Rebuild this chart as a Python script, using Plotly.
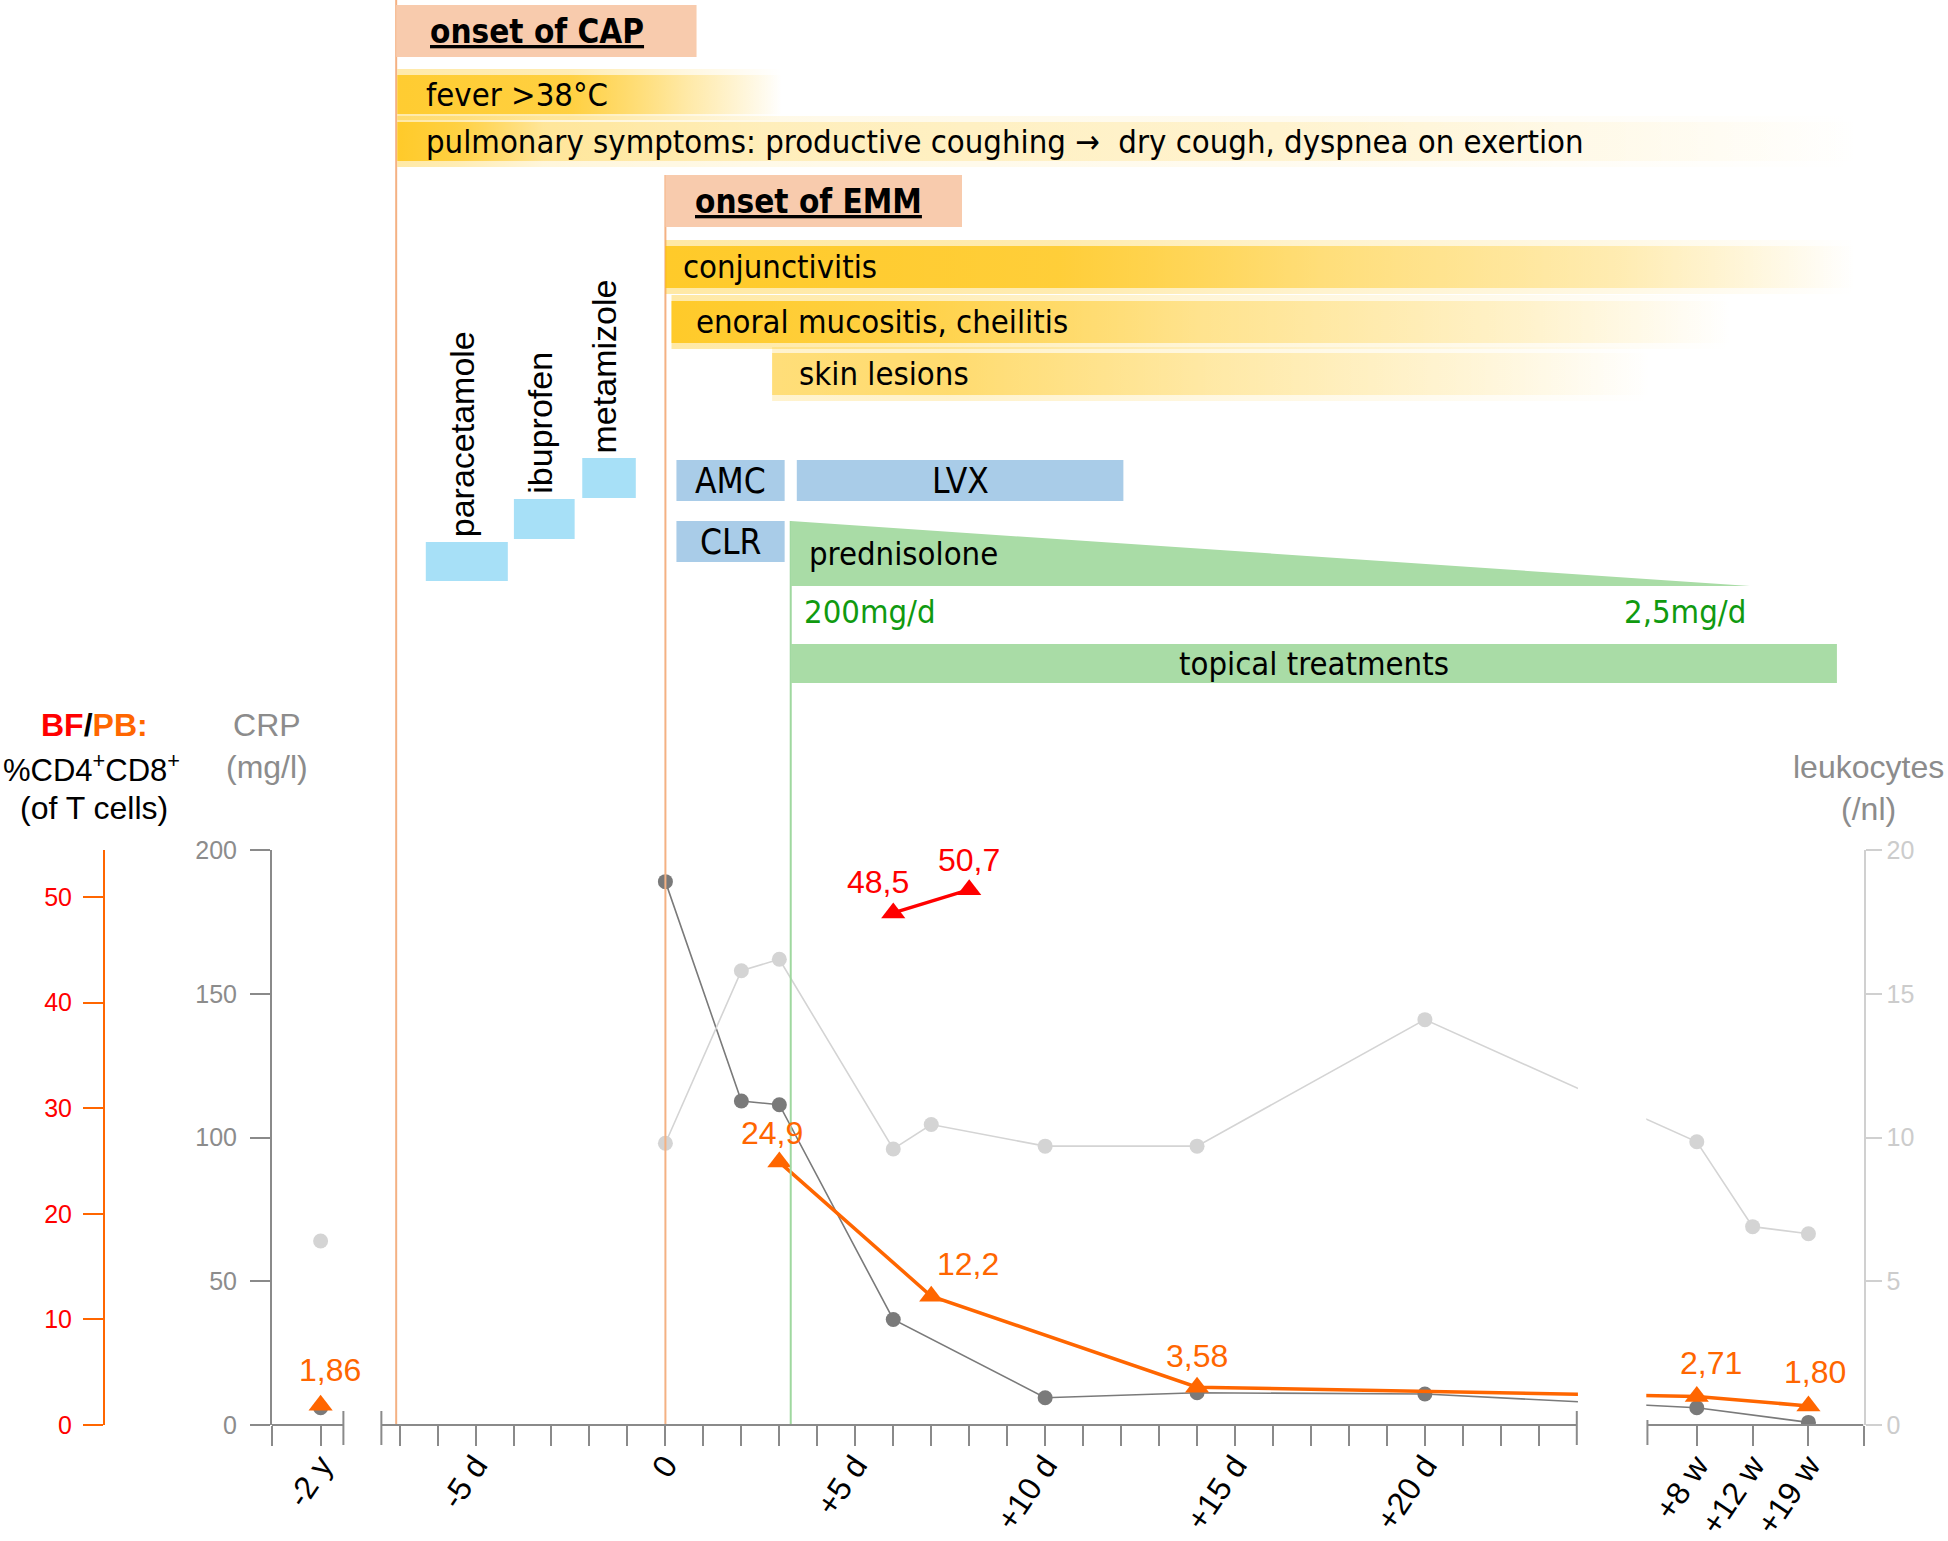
import plotly.graph_objects as go

W, H = 1948, 1541

# ---------------- data ----------------
# time points: numbers are days relative to onset of EMM; strings are the
# labels of the two broken-axis segments ("-2 y" and weeks)
crp_t = ["-2 y", 0, 2, 3, 6, 10, 14, 20, "+8 w", "+19 w"]
crp_v = [6, 189, 112.7, 111.4, 36.7, 9.5, 11.2, 10.8, 6.0, 0.9]

leu_t = ["-2 y", 0, 2, 3, 6, 7, 10, 14, 20, "+8 w", "+12 w", "+19 w"]
leu_v = [6.4, 9.8, 15.8, 16.2, 9.6, 10.45, 9.7, 9.7, 14.1, 9.85, 6.9, 6.65]

pb_t = ["-2 y", 3, 7, 14, "+8 w", "+19 w"]
pb_v = [1.86, 24.9, 12.2, 3.58, 2.71, 1.80]
pb_lbl = ["1,86", "24,9", "12,2", "3,58", "2,71", "1,80"]

bf_t = [6, 8]
bf_v = [48.5, 50.7]
bf_lbl = ["48,5", "50,7"]

crp_ticks = [0, 50, 100, 150, 200]
pb_ticks = [0, 10, 20, 30, 40, 50]
leu_ticks = [0, 5, 10, 15, 20]

# broken x axis: positions of the non-day categories on the common axis
SEG_POS = {"-2 y": -9.08, "+8 w": 27.16, "+12 w": 28.63, "+19 w": 30.10}
X_MIN, X_MAX = -10.36, 31.55
SEGMENTS = [(X_MIN, -8.48), (-7.48, 24.0), (25.86, X_MAX)]

day_ticks = list(range(-7, 24))
day_labels = {-5: "-5 d", 0: "0", 5: "+5 d", 10: "+10 d", 15: "+15 d", 20: "+20 d"}


def xpos(t):
    return SEG_POS[t] if isinstance(t, str) else t


tick_vals = [X_MIN, SEG_POS["-2 y"]] + day_ticks + [SEG_POS["+8 w"], SEG_POS["+12 w"], SEG_POS["+19 w"], X_MAX]
tick_text = ["", "-2 y"] + [day_labels.get(d, "") for d in day_ticks] + ["+8 w", "+12 w", "+19 w", ""]

# ---------------- timeline (x in axis units, y in px from top) ----------------
onset_boxes = [
    ("onset of CAP", -7.09, 0.82, 5, 57, -3.37),
    ("onset of EMM", 0.0, 7.81, 175, 227, 3.76),
]
symptom_bars = [
    dict(label="fever >38°C", x0=-7.06, x1=3.07, y0=75, y1=114, tx=-6.37,
         fade=[(0, 0.95), (0.45, 0.85), (0.75, 0.35), (1, 0.0)]),
    dict(label="pulmonary symptoms: productive coughing \u2192  dry cough, dyspnea on exertion",
         x0=-7.06, x1=31.5, y0=122, y1=161, tx=-6.37,
         fade=[(0, 1.0), (0.04, 0.85), (0.1, 0.4), (0.25, 0.26), (0.6, 0.18), (1, 0.0)]),
    dict(label="conjunctivitis", x0=0.0, x1=31.34, y0=246, y1=288, tx=0.42,
         fade=[(0, 1.0), (0.33, 0.9), (0.55, 0.55), (0.8, 0.3), (1, 0.0)]),
    dict(label="enoral mucositis, cheilitis", x0=0.16, x1=28.07, y0=301, y1=343, tx=0.75,
         fade=[(0, 1.0), (0.2, 0.85), (0.5, 0.45), (0.8, 0.2), (1, 0.0)]),
    dict(label="skin lesions", x0=2.81, x1=25.95, y0=353, y1=395, tx=3.46,
         fade=[(0, 0.55), (0.2, 0.6), (0.5, 0.35), (0.8, 0.15), (1, 0.0)]),
]
analgesics = [  # label, x0, x1, y0, y1
    ("paracetamole", -6.31, -4.15, 542, 581),
    ("ibuprofen", -3.99, -2.39, 499, 539),
    ("metamizole", -2.19, -0.78, 458, 498),
]
antibiotics = [
    ("AMC", 0.29, 3.14, 460, 501),
    ("LVX", 3.46, 12.06, 460, 501),
    ("CLR", 0.29, 3.14, 521, 562),
]
PRED_X0, PRED_X1, PRED_Y0, PRED_Y1 = 3.30, 28.56, 521, 586
TOPIC_X0, TOPIC_X1, TOPIC_Y0, TOPIC_Y1 = 3.30, 30.85, 644, 683

# ---------------- styles ----------------
SANS = "Liberation Sans, Arial, Helvetica, sans-serif"
NARROW = "Liberation Sans Narrow, Arial Narrow, DejaVu Sans Condensed, Liberation Sans, sans-serif"
NARROW_SIZE = 32.6
AX_GRAY = "#8a8a8a"
CRP_C = "#7a7a7a"
LEU_C = "#d4d4d4"
PB_C = "#ff6600"
BF_C = "#ff0000"
ORANGE_LINE = "#f4b183"
PEACH = "#f8cbad"
CYAN = "#a7e0f7"
BLUE = "#a9cce8"
GREEN = "#a9dca6"
GREEN_TXT = "#109a10"
GOLD = (255, 192, 0)

X_D0, X_D1 = 272 / W, 1863.5 / W
Y_TOP_PX, Y_BOT_PX = 850, 1425
Y_D0, Y_D1 = 1 - Y_BOT_PX / H, 1 - Y_TOP_PX / H


def rgba(c, a):
    return f"rgba({c[0]},{c[1]},{c[2]},{a:.3f})"


fig = go.Figure()

# gradient symptom bars
for bar in symptom_bars:
    for pad, k in [(6, 0.35), (0, 0.75)]:
        x0, x1 = bar["x0"], bar["x1"]
        y0, y1 = bar["y0"] - pad, bar["y1"] + pad
        cs = [[s, rgba(GOLD, a * k)] for s, a in bar["fade"]]
        fig.add_trace(go.Scatter(
            x=[x0, x1, x1, x0, x0], y=[y0, y0, y1, y1, y0], mode="lines",
            line=dict(width=0), fill="toself",
            fillgradient=dict(type="horizontal", colorscale=cs, start=x0, stop=x1),
            xaxis="x", yaxis="y4", hoverinfo="skip", showlegend=False))


def series(ts, vs):
    xs = [xpos(ts[0]), None] + [xpos(t) for t in ts[1:]]
    ys = [vs[0], None] + list(vs[1:])
    return xs, ys


lx, ly = series(leu_t, leu_v)
fig.add_trace(go.Scatter(x=lx, y=ly, yaxis="y3", mode="lines+markers",
                         line=dict(color=LEU_C, width=1.6), marker=dict(color=LEU_C, size=15),
                         hoverinfo="skip", showlegend=False))
fig.add_trace(go.Scatter(x=[xpos(t) for t in bf_t], y=bf_v, yaxis="y2", mode="lines+markers",
                         line=dict(color=BF_C, width=3.5),
                         marker=dict(color=BF_C, size=21, symbol="triangle-up"),
                         hoverinfo="skip", showlegend=False))
px_, py_ = series(pb_t, pb_v)
fig.add_trace(go.Scatter(x=px_, y=py_, yaxis="y2", mode="lines+markers",
                         line=dict(color=PB_C, width=3.5),
                         marker=dict(color=PB_C, size=21, symbol="triangle-up"),
                         hoverinfo="skip", showlegend=False))
cx, cy = series(crp_t, crp_v)
fig.add_trace(go.Scatter(x=cx, y=cy, yaxis="y", mode="lines+markers",
                         line=dict(color=CRP_C, width=1.6), marker=dict(color=CRP_C, size=15),
                         hoverinfo="skip", showlegend=False))

shapes = []
ann = []

# vertical event lines
shapes.append(dict(type="line", xref="x", yref="y4", x0=-7.09, x1=-7.09, y0=0, y1=Y_BOT_PX,
                   line=dict(color=ORANGE_LINE, width=2), layer="below"))
shapes.append(dict(type="line", xref="x", yref="y4", x0=0, x1=0, y0=175, y1=Y_BOT_PX,
                   line=dict(color=ORANGE_LINE, width=2), layer="below"))
shapes.append(dict(type="line", xref="x", yref="y4", x0=PRED_X0, x1=PRED_X0, y0=PRED_Y0, y1=Y_BOT_PX,
                   line=dict(color="#9fd89f", width=2), layer="below"))

# onset boxes
for label, x0, x1, y0, y1, tx in onset_boxes:
    shapes.append(dict(type="rect", xref="x", yref="y4", x0=x0, x1=x1, y0=y0, y1=y1,
                       fillcolor=PEACH, line=dict(width=0), layer="below"))
    ann.append(dict(x=tx, y=(y0 + y1) / 2, xref="x", yref="y4", text=f"<b><u>{label}</u></b>",
                    showarrow=False, font=dict(family=NARROW, size=33, color="black")))

for bar in symptom_bars:
    ann.append(dict(x=bar["tx"], y=(bar["y0"] + bar["y1"]) / 2, xref="x", yref="y4", text=bar["label"],
                    showarrow=False, xanchor="left", font=dict(family=NARROW, size=NARROW_SIZE, color="black")))

for label, x0, x1, y0, y1 in analgesics:
    shapes.append(dict(type="rect", xref="x", yref="y4", x0=x0, x1=x1, y0=y0, y1=y1,
                       fillcolor=CYAN, line=dict(width=0)))
    ann.append(dict(x=(x0 + x1) / 2 - 0.12, y=y0 - 3, xref="x", yref="y4", text=label, textangle=-90,
                    showarrow=False, xanchor="center", yanchor="bottom",
                    font=dict(family=SANS, size=34, color="black")))

for label, x0, x1, y0, y1 in antibiotics:
    shapes.append(dict(type="rect", xref="x", yref="y4", x0=x0, x1=x1, y0=y0, y1=y1,
                       fillcolor=BLUE, line=dict(width=0)))
    ann.append(dict(x=(x0 + x1) / 2, y=(y0 + y1) / 2, xref="x", yref="y4", text=label,
                    showarrow=False, font=dict(family=NARROW, size=35, color="black")))

# prednisolone wedge
shapes.append(dict(type="path", xref="x", yref="y4",
                   path=f"M {PRED_X0},{PRED_Y0} L {PRED_X1},{PRED_Y1} L {PRED_X0},{PRED_Y1} Z",
                   fillcolor=GREEN, line=dict(width=0)))
ann.append(dict(x=3.73, y=554, xref="x", yref="y4", text="prednisolone", showarrow=False,
                xanchor="left", font=dict(family=NARROW, size=NARROW_SIZE, color="black")))
ann.append(dict(x=3.59, y=612, xref="x", yref="y4", text="200mg/d", showarrow=False,
                xanchor="left", font=dict(family=NARROW, size=NARROW_SIZE, color=GREEN_TXT)))
ann.append(dict(x=28.5, y=612, xref="x", yref="y4", text="2,5mg/d", showarrow=False,
                xanchor="right", font=dict(family=NARROW, size=NARROW_SIZE, color=GREEN_TXT)))
shapes.append(dict(type="rect", xref="x", yref="y4", x0=TOPIC_X0, x1=TOPIC_X1, y0=TOPIC_Y0, y1=TOPIC_Y1,
                   fillcolor=GREEN, line=dict(width=0)))
ann.append(dict(x=17.09, y=(TOPIC_Y0 + TOPIC_Y1) / 2, xref="x", yref="y4", text="topical treatments",
                showarrow=False, font=dict(family=NARROW, size=NARROW_SIZE, color="black")))

# white gap in the broken axis
shapes.append(dict(type="rect", xref="x", yref="y4", x0=SEGMENTS[1][1] + 0.03, x1=SEGMENTS[2][0] - 0.03,
                   y0=Y_TOP_PX - 10, y1=Y_BOT_PX - 2, fillcolor="white", line=dict(width=0), layer="above"))

# x-axis line segments and segment end ticks
for a, b in SEGMENTS:
    shapes.append(dict(type="line", xref="x", yref="y4", x0=a, x1=b, y0=Y_BOT_PX, y1=Y_BOT_PX,
                       line=dict(color=AX_GRAY, width=2)))
for xe, up in [(SEGMENTS[0][1], 14), (SEGMENTS[1][0], 14), (SEGMENTS[1][1], 14), (SEGMENTS[2][0], 5)]:
    shapes.append(dict(type="line", xref="x", yref="y4", x0=xe, x1=xe, y0=Y_BOT_PX - up, y1=Y_BOT_PX + 20,
                       line=dict(color=AX_GRAY, width=2)))

# data labels
pb_off = [(9, 35), (-7, 29), (37, 32), (0, 31), (14, 33), (7, 34)]
for t, v, s, (dx, dy) in zip(pb_t, pb_v, pb_lbl, pb_off):
    ann.append(dict(x=xpos(t), y=v, xref="x", yref="y2", text=s, showarrow=False,
                    xshift=dx, yshift=dy, font=dict(family=SANS, size=32, color=PB_C)))
bf_off = [(-15, 31), (0, 30)]
for t, v, s, (dx, dy) in zip(bf_t, bf_v, bf_lbl, bf_off):
    ann.append(dict(x=xpos(t), y=v, xref="x", yref="y2", text=s, showarrow=False,
                    xshift=dx, yshift=dy, font=dict(family=SANS, size=32, color=BF_C)))

# axis titles
ann.append(dict(x=94 / W, y=725, xref="paper", yref="y4", showarrow=False, align="center",
                xanchor="center", yanchor="middle",
                text=f"<b><span style='color:{BF_C}'>BF</span>/<span style='color:{PB_C}'>PB:</span></b>",
                font=dict(family=SANS, size=32, color="black")))
ann.append(dict(x=91 / W, y=768, xref="paper", yref="y4", showarrow=False, align="center",
                xanchor="center", yanchor="middle",
                text="%CD4<sup>+</sup>CD8<sup>+</sup>",
                font=dict(family=SANS, size=31, color="black")))
ann.append(dict(x=94 / W, y=808, xref="paper", yref="y4", showarrow=False, align="center",
                xanchor="center", yanchor="middle",
                text="(of T cells)",
                font=dict(family=SANS, size=32, color="black")))
ann.append(dict(x=267 / W, y=746, xref="paper", yref="y4", showarrow=False, align="center",
                xanchor="center", yanchor="middle",
                text="CRP<br>(mg/l)", font=dict(family=SANS, size=32, color="#8c8c8c")))
ann.append(dict(x=1868 / W, y=788, xref="paper", yref="y4", showarrow=False, align="center",
                xanchor="center", yanchor="middle",
                text="leukocytes<br>(/nl)", font=dict(family=SANS, size=32, color="#8c8c8c")))

fig.update_layout(
    width=W, height=H, margin=dict(l=0, r=0, t=0, b=0), autosize=False,
    paper_bgcolor="white", plot_bgcolor="rgba(0,0,0,0)", showlegend=False, hovermode=False,
    font=dict(family=SANS, size=32, color="black"),
    shapes=shapes, annotations=ann,
    xaxis=dict(domain=[X_D0, X_D1], range=[X_MIN, X_MAX], anchor="y", showline=False, showgrid=False,
               zeroline=False, tickmode="array", tickvals=tick_vals, ticktext=tick_text,
               ticks="outside", ticklen=20, tickwidth=2, tickcolor=AX_GRAY, tickangle=-56,
               ticklabelstandoff=-12,
               tickfont=dict(family=SANS, size=32, color="black"), automargin=False),
    yaxis=dict(domain=[Y_D0, Y_D1], range=[0, 200], anchor="x", tickmode="array", tickvals=crp_ticks,
               showline=True, linecolor=AX_GRAY, linewidth=2, ticks="outside", ticklen=20, tickwidth=2,
               tickcolor=AX_GRAY, tickfont=dict(family=SANS, size=25, color="#8c8c8c"),
               ticklabelstandoff=8, showgrid=False, zeroline=False, automargin=False),
    yaxis2=dict(overlaying="y", anchor="free", position=104 / W, side="left", range=[0, 54.46],
                tickmode="array", tickvals=pb_ticks, showline=True, linecolor=PB_C, linewidth=2,
                ticks="outside", ticklen=20, tickwidth=2, tickcolor=PB_C,
                tickfont=dict(family=SANS, size=25, color=BF_C), ticklabelstandoff=6,
                showgrid=False, zeroline=False, automargin=False),
    yaxis3=dict(overlaying="y", anchor="x", side="right", range=[0, 20], tickmode="array",
                tickvals=leu_ticks, showline=True, linecolor="#d0d0d0", linewidth=2, ticks="outside",
                ticklen=16, tickwidth=2, tickcolor="#d0d0d0",
                tickfont=dict(family=SANS, size=25, color="#cccccc"),
                showgrid=False, zeroline=False, automargin=False),
    yaxis4=dict(domain=[0, 1], range=[H, 0], anchor="x", visible=False, fixedrange=True),
)

fig.write_html("out.html", config={"displayModeBar": False, "staticPlot": True},
               post_script="document.body.style.margin='0px';document.body.style.overflow='hidden';")
